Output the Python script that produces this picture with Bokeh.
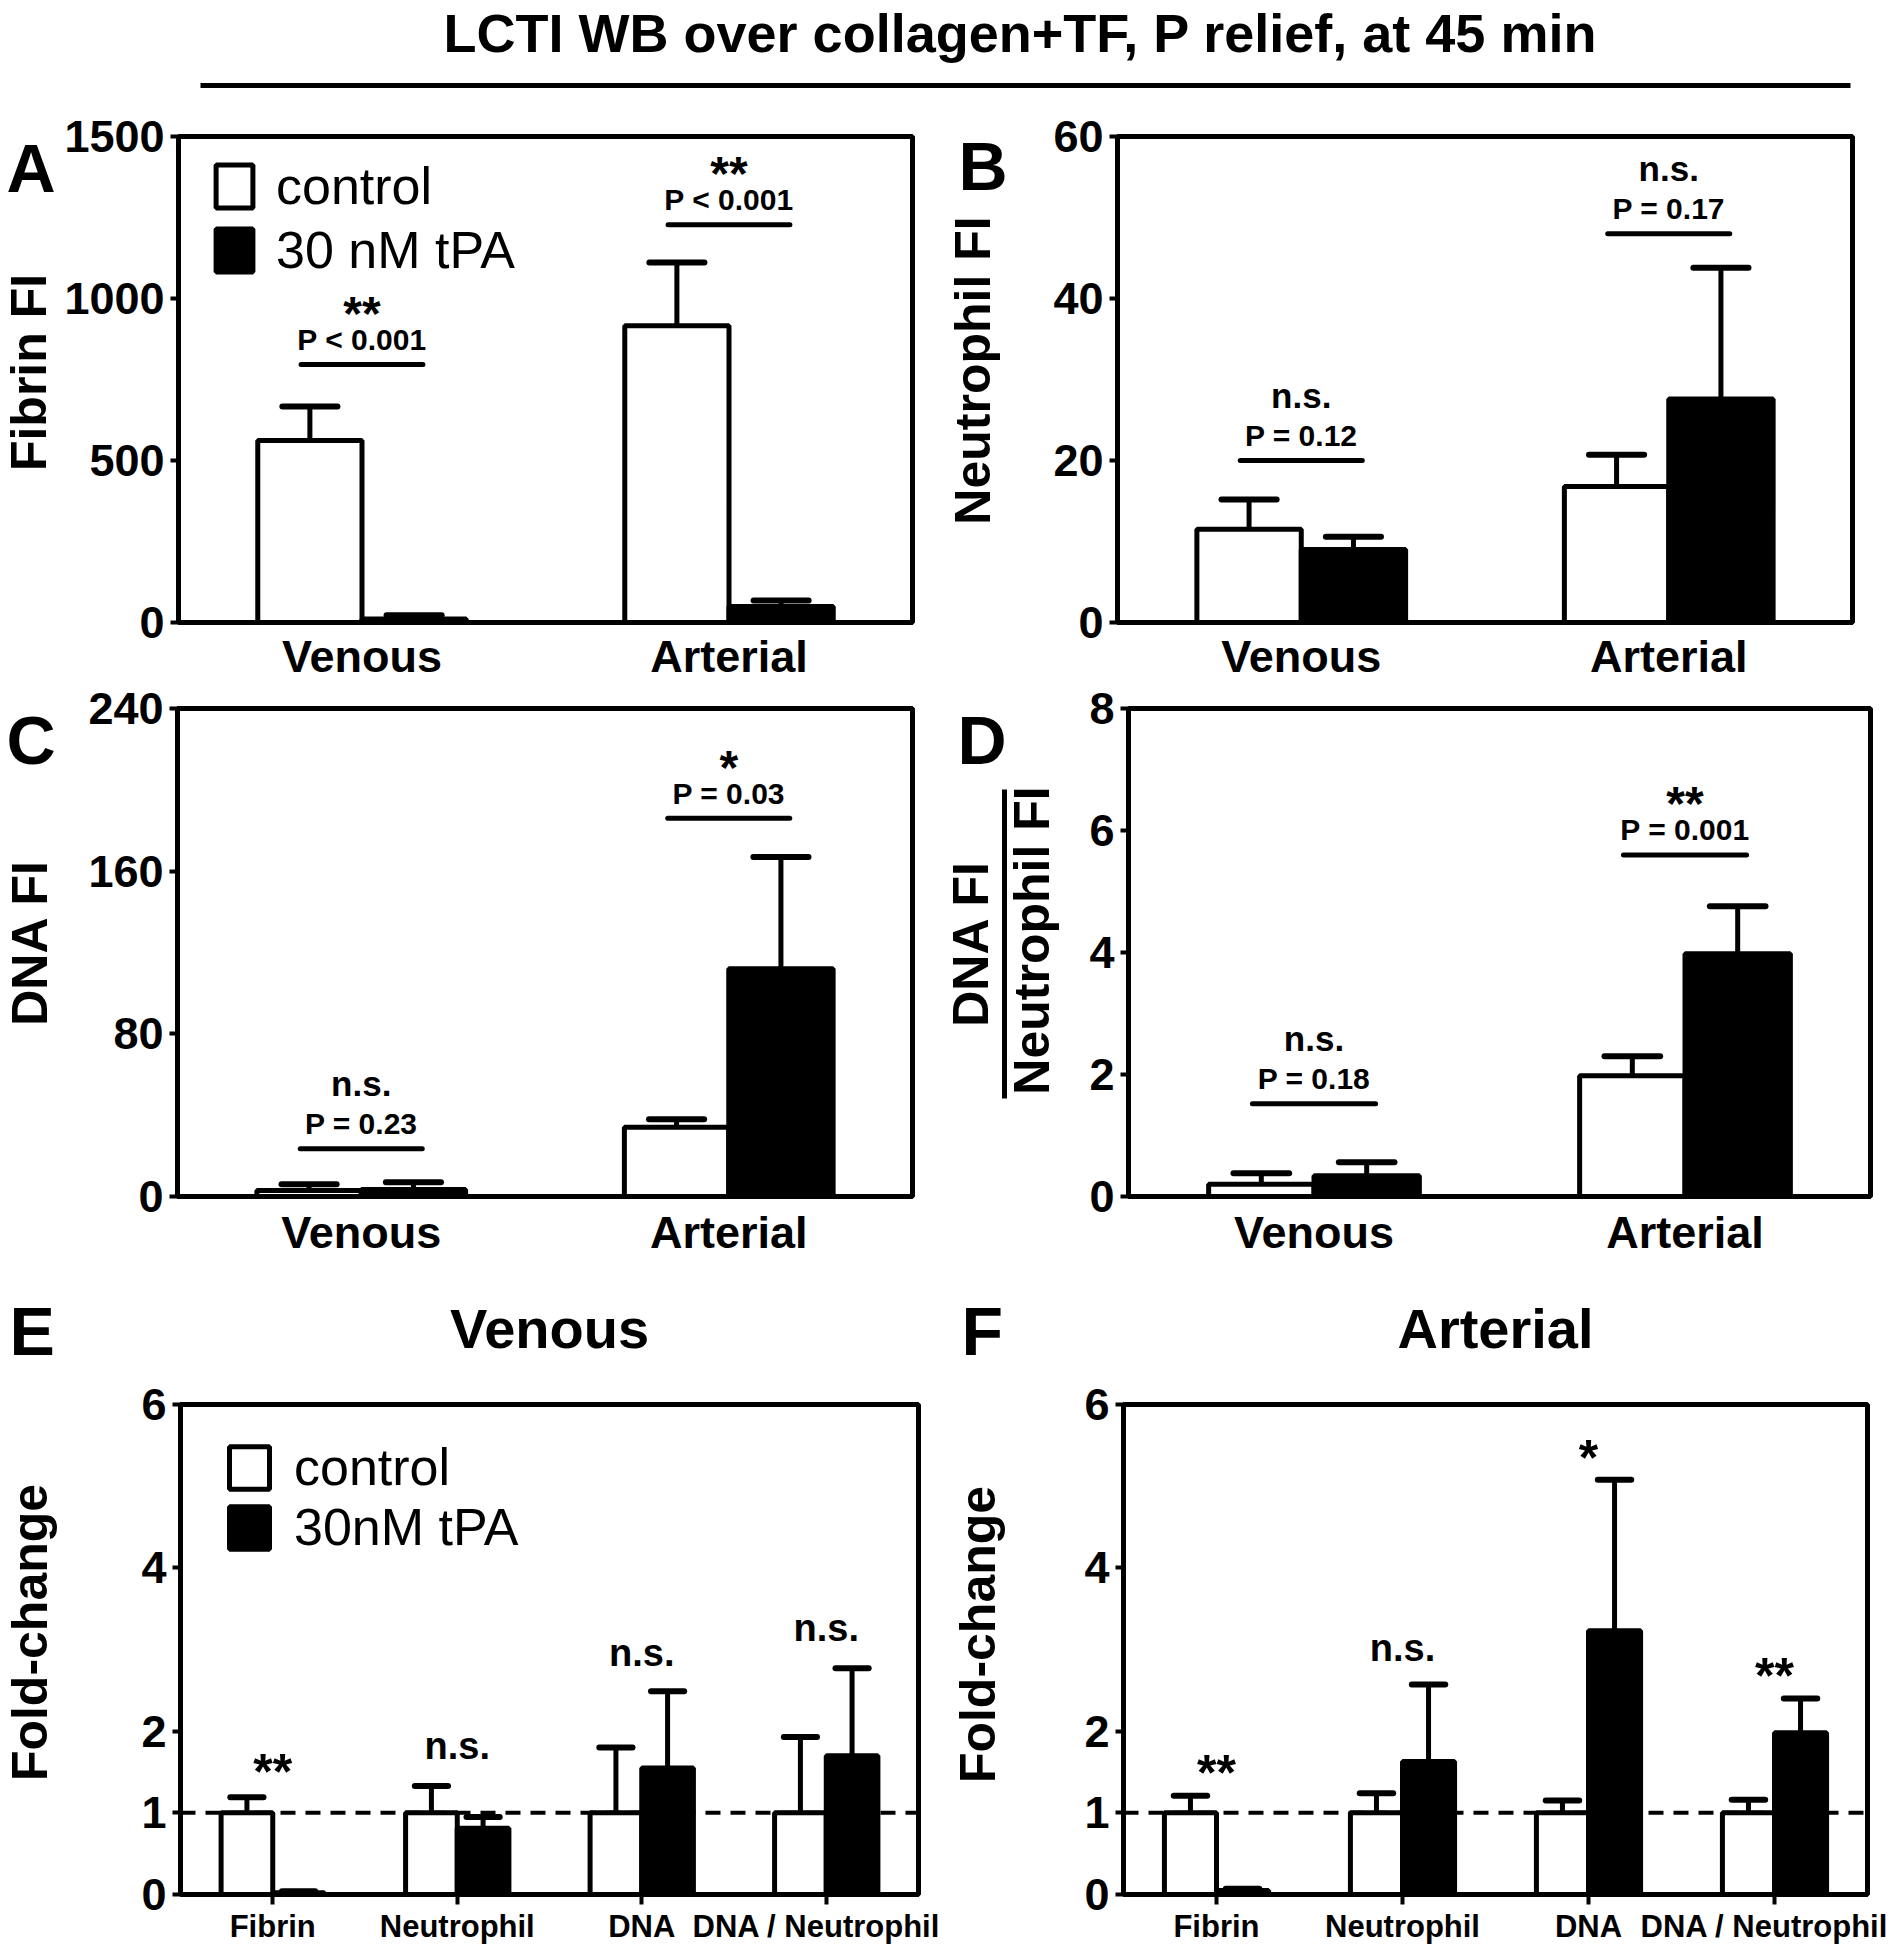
import math
from bokeh.plotting import figure
from bokeh.models import (FactorRange, Range1d, Label, Legend, LegendItem, Span,
                          FixedTicker, ColumnDataSource, Arrow)
from bokeh.transform import dodge
from bokeh.layouts import column, row
from bokeh.core.properties import value
from bokeh.embed import file_html
from bokeh.resources import INLINE

FONT = "Liberation Sans"

# ---------------- data ----------------
title_text = "LCTI WB over collagen+TF, P relief, at 45 min"
groups = ["Venous", "Arterial"]
legend_top = ["control", "30 nM tPA"]
legend_bottom = ["control", "30nM tPA"]

# Panel A - Fibrin FI
fibrin_ctrl = [562, 916]
fibrin_ctrl_err = [667, 1111]
fibrin_tpa = [11, 49]
fibrin_tpa_err = [22, 68]
fibrin_sig = ["**", "**"]
fibrin_p = ["P < 0.001", "P < 0.001"]
fibrin_sig_y = [796, 1228]
fibrin_ticks = [0, 500, 1000, 1500]

# Panel B - Neutrophil FI
neut_ctrl = [11.5, 16.8]
neut_ctrl_err = [15.2, 20.7]
neut_tpa = [9.0, 27.6]
neut_tpa_err = [10.6, 43.8]
neut_sig = ["n.s.", "n.s."]
neut_p = ["P = 0.12", "P = 0.17"]
neut_sig_y = [20.0, 48.0]
neut_ticks = [0, 20, 40, 60]

# Panel C - DNA FI
dna_ctrl = [3, 34]
dna_ctrl_err = [6, 38]
dna_tpa = [3.5, 112]
dna_tpa_err = [7, 167]
dna_sig = ["n.s.", "*"]
dna_p = ["P = 0.23", "P = 0.03"]
dna_sig_y = [23.5, 186]
dna_ticks = [0, 80, 160, 240]

# Panel D - DNA FI / Neutrophil FI
ratio_ctrl = [0.20, 1.98]
ratio_ctrl_err = [0.38, 2.30]
ratio_tpa = [0.34, 3.98]
ratio_tpa_err = [0.56, 4.76]
ratio_sig = ["n.s.", "**"]
ratio_p = ["P = 0.18", "P = 0.001"]
ratio_sig_y = [1.52, 5.6]
ratio_ticks = [0, 2, 4, 6, 8]

# Panels E/F - fold change
measures = ["Fibrin", "Neutrophil", "DNA", "DNA / Neutrophil"]
fold_ticks = [0, 1, 2, 4, 6]
ven_ctrl = [1, 1, 1, 1]
ven_ctrl_err = [1.19, 1.33, 1.80, 1.93]
ven_tpa = [0.02, 0.81, 1.55, 1.70]
ven_tpa_err = [0.04, 0.95, 2.49, 2.77]
ven_sig = ["**", "n.s.", "n.s.", "n.s."]
ven_sig_y = [1.6, 1.8, 2.93, 3.24]

art_ctrl = [1, 1, 1, 1]
art_ctrl_err = [1.21, 1.24, 1.15, 1.16]
art_tpa = [0.05, 1.63, 3.23, 1.98]
art_tpa_err = [0.07, 2.57, 5.08, 2.40]
art_sig = ["**", "n.s.", "*", "**"]
art_sig_y = [1.58, 2.99, 5.44, 2.77]


# ---------------- helpers ----------------
def base_fig(cats, ymax, ticks, fw, fh, bl, br, bt, bb, xlab_size, xticks, xstandoff):
    p = figure(x_range=FactorRange(*cats), y_range=Range1d(0, ymax),
               frame_width=fw, frame_height=fh,
               min_border_left=bl, min_border_right=br,
               min_border_top=bt, min_border_bottom=bb,
               output_backend="svg", toolbar_location=None)
    p.outline_line_color = "black"
    p.outline_line_width = 5
    p.xgrid.visible = False
    p.ygrid.visible = False
    p.background_fill_color = "white"
    p.border_fill_color = "white"
    ya = p.yaxis[0]
    ya.ticker = FixedTicker(ticks=ticks)
    ya.axis_line_width = 5
    ya.major_tick_line_width = 4
    ya.major_tick_out = 8
    ya.major_tick_in = 0
    ya.minor_tick_line_color = None
    ya.major_label_text_font = FONT
    ya.major_label_text_font_style = "bold"
    ya.major_label_text_font_size = "45px"
    ya.major_label_text_color = "black"
    ya.major_label_standoff = 6
    xa = p.xaxis[0]
    xa.axis_line_width = 5
    xa.minor_tick_line_color = None
    xa.major_label_text_font = FONT
    xa.major_label_text_font_style = "bold"
    xa.major_label_text_font_size = xlab_size
    xa.major_label_text_color = "black"
    if xticks:
        xa.major_tick_out = 10
        xa.major_tick_in = 0
        xa.major_tick_line_width = 4
    else:
        xa.major_tick_line_color = None
        xa.major_tick_out = 0
        xa.major_tick_in = 0
    xa.major_label_standoff = xstandoff
    return p


def label_col(w, h):
    c = figure(width=w, height=h, x_range=Range1d(0, w), y_range=Range1d(0, h),
               min_border=0, x_axis_location=None, y_axis_location=None,
               output_backend="svg", toolbar_location=None)
    c.outline_line_color = None
    c.grid.visible = False
    return c


def add_bars(p, cats, ctrl, ctrl_err, tpa, tpa_err, bar_w, cap_hw):
    src = ColumnDataSource(dict(cat=cats, ctrl=ctrl, ctrl_err=ctrl_err,
                                tpa=tpa, tpa_err=tpa_err))
    off = bar_w / 2
    xr = p.x_range
    r_c = p.vbar(x=dodge("cat", -off, range=xr), top="ctrl", width=bar_w, source=src,
                 fill_color="white", line_color="black", line_width=5)
    r_t = p.vbar(x=dodge("cat", off, range=xr), top="tpa", width=bar_w, source=src,
                 fill_color="black", line_color="black", line_width=5)
    for o, lo, hi in ((-off, "ctrl", "ctrl_err"), (off, "tpa", "tpa_err")):
        p.segment(x0=dodge("cat", o, range=xr), y0=lo, x1=dodge("cat", o, range=xr), y1=hi,
                  source=src, line_color="black", line_width=5)
        p.segment(x0=dodge("cat", o - cap_hw, range=xr), y0=hi,
                  x1=dodge("cat", o + cap_hw, range=xr), y1=hi,
                  source=src, line_color="black", line_width=6, line_cap="round")
    return r_c, r_t


def add_sig(p, cats, sig, pv, sig_y):
    src = ColumnDataSource(dict(cat=cats, sig=sig, p=pv, y=sig_y,
                                size=["48px" if s.startswith("*") else "35px" for s in sig],
                                yo=[-51 if s.startswith("*") else -65 for s in sig]))
    xr = p.x_range
    p.segment(x0=dodge("cat", -0.166, range=xr), y0="y", x1=dodge("cat", 0.166, range=xr), y1="y",
              source=src, line_color="black", line_width=5, line_cap="round")
    p.text(x="cat", y="y", text="p", source=src, y_offset=-25, text_align="center",
           text_baseline="middle", text_font=value(FONT), text_font_style="bold",
           text_font_size="30px", text_color="black")
    p.text(x="cat", y="y", text="sig", source=src, y_offset="yo", text_align="center",
           text_baseline="middle", text_font=value(FONT), text_font_style="bold",
           text_font_size="size", text_color="black")


def add_fold_sig(p, cats, sig, sig_y):
    src = ColumnDataSource(dict(cat=cats, sig=sig, y=sig_y,
                                size=["50px" if s.startswith("*") else "38px" for s in sig],
                                yo=[8 if s.startswith("*") else -2 for s in sig]))
    p.text(x="cat", y="y", text="sig", source=src, y_offset="yo", text_align="center",
           text_baseline="middle", text_font=value(FONT), text_font_style="bold",
           text_font_size="size", text_color="black")


def text_label(c, txt, x, y, size, align="left", angle=0.0):
    c.add_layout(Label(x=x, y=y, x_units="screen", y_units="screen", text=txt,
                       angle=angle, text_font=FONT, text_font_style="bold",
                       text_font_size=size, text_baseline="middle", text_align=align,
                       text_color="black"))


def letter(c, txt, x, y):
    text_label(c, txt, x, y, "68px")


def ylabel(c, txt, x, y, size="50px"):
    text_label(c, txt, x, y, size, align="center", angle=math.pi / 2)


def legend(p, r_c, r_t, labels, loc, gw, gh, standoff, spacing):
    lg = Legend(items=[LegendItem(label=labels[0], renderers=[r_c]),
                       LegendItem(label=labels[1], renderers=[r_t])],
                location=loc, glyph_width=gw, glyph_height=gh, label_standoff=standoff,
                spacing=spacing, padding=0, margin=0, border_line_color=None,
                background_fill_alpha=0, label_text_font=FONT,
                label_text_font_size="52px", label_text_color="black")
    p.add_layout(lg)


# ---------------- title ----------------
tp = label_col(1888, 96)
text_label(tp, title_text, 1020, 64, "54px", align="center")
tp.add_layout(Arrow(end=None, x_start=200, y_start=11, x_end=1850, y_end=11,
                    start_units="screen", end_units="screen",
                    line_color="black", line_width=5))

# ---------------- row 1 (frames page y 136-622) ----------------
la = label_col(60, 588)
letter(la, "A", 6, 455)
ylabel(la, "Fibrin FI", 28, 250)
pa = base_fig(groups, 1500, fibrin_ticks, 734, 486, 118, 28, 40, 62, "45px", False, 8)
rc, rt = add_bars(pa, groups, fibrin_ctrl, fibrin_ctrl_err, fibrin_tpa, fibrin_tpa_err, 0.284, 0.075)
add_sig(pa, groups, fibrin_sig, fibrin_p, fibrin_sig_y)
legend(pa, rc, rt, legend_top, (33, 342), 46, 54, 19, 4)

lb = label_col(100, 588)
letter(lb, "B", 18, 457)
ylabel(lb, "Neutrophil FI", 32, 252)
pb = base_fig(groups, 60, neut_ticks, 735, 486, 77, 36, 40, 62, "45px", False, 8)
add_bars(pb, groups, neut_ctrl, neut_ctrl_err, neut_tpa, neut_tpa_err, 0.284, 0.075)
add_sig(pb, groups, neut_sig, neut_p, neut_sig_y)

# ---------------- row 2 (frames page y 708-1196) ----------------
lc = label_col(60, 606)
letter(lc, "C", 6, 457)
ylabel(lc, "DNA FI", 29, 254)
pc = base_fig(groups, 240, dna_ticks, 735, 488, 117, 28, 24, 94, "45px", False, 10)
add_bars(pc, groups, dna_ctrl, dna_ctrl_err, dna_tpa, dna_tpa_err, 0.284, 0.075)
add_sig(pc, groups, dna_sig, dna_p, dna_sig_y)

ld = label_col(120, 606)
letter(ld, "D", 17, 457)
ylabel(ld, "DNA FI", 30, 253)
ylabel(ld, "Neutrophil FI", 91, 256)
ld.add_layout(Arrow(end=None, x_start=64, y_start=98, x_end=64, y_end=407,
                    start_units="screen", end_units="screen",
                    line_color="black", line_width=5))
pd_ = base_fig(groups, 8, ratio_ticks, 742, 488, 68, 18, 24, 94, "45px", False, 10)
add_bars(pd_, groups, ratio_ctrl, ratio_ctrl_err, ratio_tpa, ratio_tpa_err, 0.284, 0.075)
add_sig(pd_, groups, ratio_sig, ratio_p, ratio_sig_y)

# ---------------- strip with E/F letters and titles ----------------
strip = label_col(1888, 90)
letter(strip, "E", 9, 50)
text_label(strip, "Venous", 549, 52, "56px", align="center")
letter(strip, "F", 961, 50)
text_label(strip, "Arterial", 1495, 52, "56px", align="center")

# ---------------- row 3 ----------------
le = label_col(60, 560)
ylabel(le, "Fold-change", 29, 256)
pe = base_fig(measures, 6, fold_ticks, 738, 490, 120, 22, 24, 46, "31px", True, 4)
pe.add_layout(Span(location=1, dimension="width", line_color="black", line_width=4,
                   line_dash="15 10", level="underlay"))
rc, rt = add_bars(pe, measures, ven_ctrl, ven_ctrl_err, ven_tpa, ven_tpa_err, 0.28, 0.09)
add_fold_sig(pe, measures, ven_sig, ven_sig_y)
legend(pe, rc, rt, legend_bottom, (44, 337), 50, 53, 20, 0)

lf = label_col(100, 560)
ylabel(lf, "Fold-change", 37, 254)
pf = base_fig(measures, 6, fold_ticks, 744, 490, 83, 21, 24, 46, "31px", True, 4)
pf.add_layout(Span(location=1, dimension="width", line_color="black", line_width=4,
                   line_dash="15 10", level="underlay"))
add_bars(pf, measures, art_ctrl, art_ctrl_err, art_tpa, art_tpa_err, 0.28, 0.09)
add_fold_sig(pf, measures, art_sig, art_sig_y)

layout = column(tp, row(la, pa, lb, pb), row(lc, pc, ld, pd_), strip, row(le, pe, lf, pf))
open("out.html", "w").write(file_html(layout, INLINE))
